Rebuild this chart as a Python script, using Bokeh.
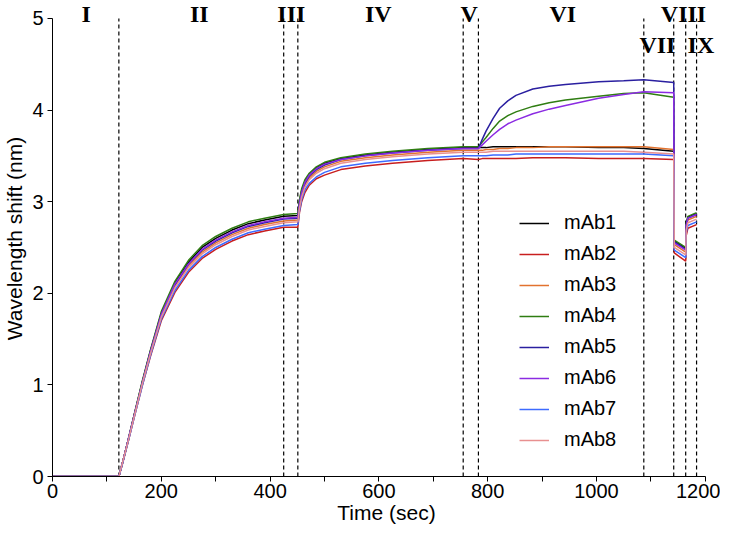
from bokeh.plotting import figure
from bokeh.models import Range1d, FixedTicker, Label, Legend, LegendItem
from bokeh.embed import file_html
from bokeh.resources import INLINE

# ---------------- data ----------------
time_s = [0, 122, 130, 140, 150, 165, 180, 200, 225, 250, 275, 300, 330, 360, 390, 425,
          451, 454, 458, 464, 472, 485, 500, 530, 575, 625, 690, 755,
          783, 790, 797, 810, 822, 837, 852, 883, 913, 943, 1004, 1050, 1087,
          1142, 1143, 1164, 1165, 1168, 1184]

mab1 = [0, 0, 0.18, 0.42, 0.67, 1.03, 1.37, 1.78, 2.11, 2.34, 2.50, 2.60, 2.69, 2.76, 2.80, 2.84,
        2.85, 3.00, 3.12, 3.22, 3.30, 3.37, 3.42, 3.47, 3.51, 3.54, 3.57, 3.59,
        3.59, 3.59, 3.59, 3.60, 3.60, 3.60, 3.60, 3.60, 3.60, 3.60, 3.59, 3.59, 3.58,
        3.55, 2.57, 2.49, 2.75, 2.83, 2.87]
mab2 = [0, 0, 0.17, 0.40, 0.64, 0.99, 1.31, 1.70, 2.01, 2.23, 2.38, 2.48, 2.57, 2.64, 2.68, 2.72,
        2.72, 2.88, 3.00, 3.10, 3.18, 3.25, 3.29, 3.35, 3.39, 3.42, 3.45, 3.47,
        3.46, 3.47, 3.47, 3.47, 3.47, 3.47, 3.47, 3.48, 3.48, 3.48, 3.47, 3.47, 3.47,
        3.46, 2.44, 2.35, 2.63, 2.71, 2.75]
mab3 = [0, 0, 0.18, 0.41, 0.66, 1.01, 1.35, 1.76, 2.08, 2.30, 2.45, 2.55, 2.64, 2.71, 2.75, 2.79,
        2.80, 2.95, 3.07, 3.18, 3.26, 3.33, 3.38, 3.44, 3.48, 3.51, 3.54, 3.56,
        3.56, 3.56, 3.57, 3.57, 3.58, 3.58, 3.59, 3.59, 3.60, 3.60, 3.60, 3.60, 3.60,
        3.57, 2.53, 2.45, 2.72, 2.80, 2.84]
mab4 = [0, 0, 0.18, 0.42, 0.67, 1.04, 1.38, 1.80, 2.13, 2.36, 2.52, 2.62, 2.71, 2.78, 2.82, 2.86,
        2.87, 3.02, 3.14, 3.24, 3.31, 3.38, 3.43, 3.48, 3.52, 3.55, 3.58, 3.60,
        3.60, 3.65, 3.70, 3.80, 3.88, 3.94, 3.98, 4.04, 4.08, 4.11, 4.15, 4.18, 4.19,
        4.14, 2.58, 2.50, 2.76, 2.84, 2.88]
mab5 = [0, 0, 0.18, 0.42, 0.66, 1.02, 1.36, 1.77, 2.09, 2.32, 2.47, 2.57, 2.66, 2.73, 2.77, 2.81,
        2.82, 2.97, 3.09, 3.20, 3.28, 3.35, 3.40, 3.46, 3.50, 3.53, 3.56, 3.58,
        3.58, 3.68, 3.77, 3.91, 4.02, 4.10, 4.16, 4.23, 4.26, 4.28, 4.31, 4.32, 4.33,
        4.30, 2.56, 2.48, 2.74, 2.82, 2.86]
mab6 = [0, 0, 0.18, 0.42, 0.66, 1.02, 1.36, 1.77, 2.10, 2.32, 2.48, 2.58, 2.67, 2.74, 2.78, 2.82,
        2.83, 2.98, 3.10, 3.21, 3.29, 3.36, 3.41, 3.46, 3.50, 3.53, 3.56, 3.58,
        3.58, 3.62, 3.66, 3.73, 3.79, 3.85, 3.89, 3.96, 4.01, 4.05, 4.13, 4.17, 4.20,
        4.19, 2.55, 2.47, 2.74, 2.82, 2.86]
mab7 = [0, 0, 0.17, 0.40, 0.64, 0.99, 1.32, 1.72, 2.03, 2.25, 2.40, 2.50, 2.59, 2.66, 2.70, 2.74,
        2.75, 2.90, 3.02, 3.13, 3.20, 3.27, 3.32, 3.38, 3.42, 3.45, 3.48, 3.50,
        3.50, 3.50, 3.50, 3.51, 3.51, 3.51, 3.52, 3.52, 3.52, 3.52, 3.52, 3.52, 3.52,
        3.50, 2.47, 2.39, 2.66, 2.74, 2.78]
mab8 = [0, 0, 0.18, 0.41, 0.65, 1.01, 1.34, 1.74, 2.06, 2.28, 2.43, 2.53, 2.62, 2.69, 2.73, 2.77,
        2.78, 2.93, 3.05, 3.16, 3.24, 3.31, 3.36, 3.42, 3.46, 3.49, 3.52, 3.54,
        3.54, 3.54, 3.54, 3.55, 3.55, 3.55, 3.55, 3.55, 3.55, 3.55, 3.55, 3.55, 3.54,
        3.52, 2.50, 2.42, 2.69, 2.77, 2.81]

series_names = ["mAb1", "mAb2", "mAb3", "mAb4", "mAb5", "mAb6", "mAb7", "mAb8"]
series_values = [mab1, mab2, mab3, mab4, mab5, mab6, mab7, mab8]
series_colors = ["#000000", "#C81E1E", "#E2722E", "#2F7D12",
                 "#2A1FA0", "#8B2BE2", "#3D6BFF", "#E89090"]

phase_bounds = [122, 425, 451, 755, 783, 1087, 1142, 1164, 1184]
phase_names = ["I", "II", "III", "IV", "V", "VI", "VII", "VIII", "IX"]
phase_label_t = [62, 270, 439, 599, 766, 938, 1112, 1160, 1192]
phase_label_y = [5.05, 5.05, 5.05, 5.05, 5.05, 5.05, 4.71, 5.05, 4.71]

x_ticks = list(range(0, 1201, 100))
x_tick_text = {t: (str(t) if t % 200 == 0 else "") for t in x_ticks}
y_ticks = [0, 1, 2, 3, 4, 5]

# ---------------- figure ----------------
p = figure(width=720, height=527, output_backend="svg", toolbar_location=None,
           x_range=Range1d(0, 1228), y_range=Range1d(0, 5.196),
           min_border_left=30, min_border_right=0, min_border_top=0, min_border_bottom=51)
p.outline_line_color = None
p.grid.visible = False
p.background_fill_color = "white"

SANS = "Liberation Sans"

p.xaxis.ticker = FixedTicker(ticks=x_ticks)
p.xaxis.major_label_overrides = {t: s for t, s in x_tick_text.items()}
p.xaxis.bounds = (x_ticks[0], x_ticks[-1])
p.yaxis.ticker = FixedTicker(ticks=y_ticks)
p.yaxis.bounds = (y_ticks[0], y_ticks[-1])
for ax in (p.xaxis, p.yaxis):
    ax.minor_tick_line_color = None
    ax.major_tick_in = 0
    ax.major_tick_out = 5
    ax.axis_line_color = "black"
    ax.major_tick_line_color = "black"
    ax.major_label_text_font = SANS
    ax.major_label_text_font_size = "20px"
    ax.major_label_text_color = "black"
    ax.axis_label_text_font = SANS
    ax.axis_label_text_font_size = "21px"
    ax.axis_label_text_font_style = "normal"
    ax.axis_label_text_color = "black"
p.xaxis.axis_label = "Time (sec)"
p.yaxis.axis_label = "Wavelength shift (nm)"
p.xaxis.major_label_standoff = 2
p.xaxis.axis_label_standoff = 0
p.yaxis.major_label_standoff = 4
p.yaxis.axis_label_standoff = 3

# phase boundaries (dashed), spanning the y-axis extent
p.segment(x0=phase_bounds, y0=[y_ticks[0]] * len(phase_bounds),
          x1=phase_bounds, y1=[y_ticks[-1]] * len(phase_bounds),
          line_color="black", line_width=1.2, line_dash="4 3")

items = []
for name, vals, col in zip(series_names, series_values, series_colors):
    r = p.line(time_s, vals, line_color=col, line_width=1.5)
    items.append(LegendItem(label=name, renderers=[r]))

legend = Legend(items=items, location=(467, 25), orientation="vertical",
                glyph_width=30, glyph_height=20, label_standoff=15, spacing=8,
                padding=0, margin=0, border_line_alpha=0, background_fill_alpha=0,
                label_text_font=SANS, label_text_font_size="20px", label_text_color="black")
p.add_layout(legend)

for name, t, y in zip(phase_names, phase_label_t, phase_label_y):
    p.add_layout(Label(x=t, y=y, text=name, text_align="center", text_baseline="middle",
                       text_font="Liberation Serif", text_font_style="bold",
                       text_font_size="24px", text_color="black"))

open("out.html", "w").write(file_html(p, INLINE))
